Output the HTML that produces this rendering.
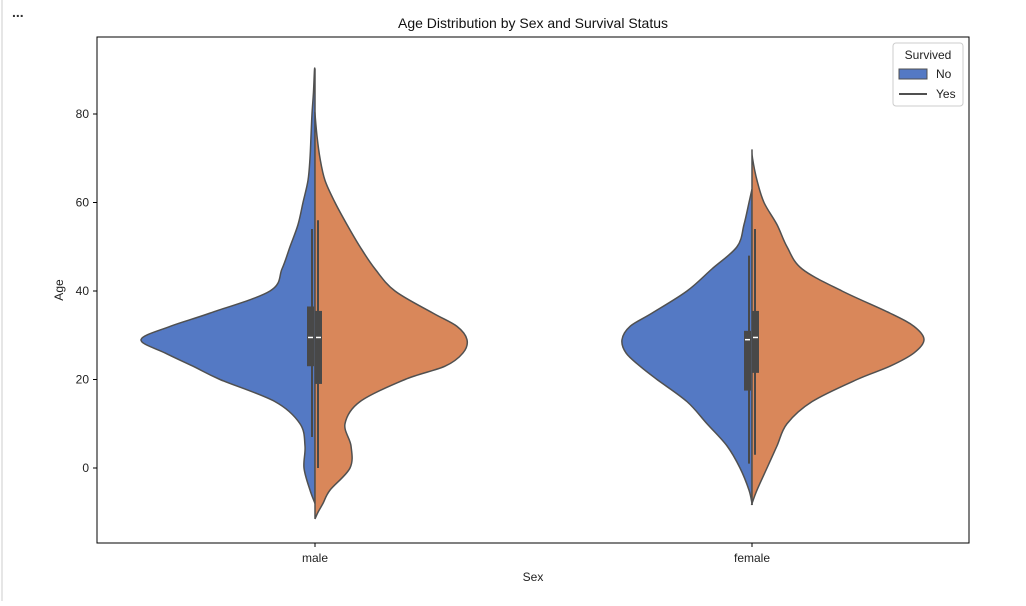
<!DOCTYPE html>
<html><head><meta charset="utf-8"><style>
body{margin:0;background:#fff;width:1026px;height:601px;overflow:hidden;font-family:"Liberation Sans","Noto Sans CJK SC",sans-serif}
svg text{font-family:"Liberation Sans","DejaVu Sans",sans-serif}
</style></head><body>
<svg width="1026" height="601">
<line x1="2" y1="0" x2="2" y2="601" stroke="#ccc"/>
<text x="12" y="17" font-size="14" font-weight="bold" fill="#333">...</text>
<g id="plot"></g>
</svg>
<script>
const categories=["male","female"];
const ageGrid=[-12,-10,-8,-5,0,5,10,15,20,23,26,29,32,35,40,45,50,55,60,65,70,75,80,85,90,92];
// densities (relative half-widths) per grid age
const maleNo=[0,0,0,5,11,10,15,40,95,122,150,174,145,105,45,33,25,17,12,7,5,4,3,1.5,0.5,0];
const maleYes=[0,3,8,15,35,36,30,45,90,130,148,152,142,118,80,60,45,32,20,10,5,2,0,0,0,0];
const femaleNo=[0,0,0,3,12,25,45,65,95,112,126,130,122,100,65,40,15,8,3,0,0,0,0,0,0,0];
const femaleYes=[0,0,0,5,15,25,35,60,105,138,162,172,162,138,90,50,35,25,12,5,0.5,0,0,0,0,0];
const boxes=[ // [q1,median,q3,whiskerLow,whiskerHigh] for No, Yes
 [[23,29.5,36.5,7,54],[19,29.5,35.5,0,56]],
 [[17.5,29,31,1,48],[21.5,29.5,35.5,3,54]]];
const tops=[[90,80],[63,72]], bottoms=[[-8,-11.5],[-8,-8]];
const yTicks=[0,20,40,60,80];
const ns="http://www.w3.org/2000/svg";
const L=97,T=37,R=969,B=543;
const y=v=>468-4.425*v;
const xc=i=>315+i*437;
const g=document.getElementById('plot');
function mk(t,a,p){const e=document.createElementNS(ns,t);for(const k in a)e.setAttribute(k,a[k]);(p||g).appendChild(e);return e;}
function smooth(pts){let d="M"+pts[0][0]+","+pts[0][1];for(let i=0;i<pts.length-1;i++){const p0=pts[i-1]||pts[i],p1=pts[i],p2=pts[i+1],p3=pts[i+2]||p2;
 d+=" C"+(p1[0]+(p2[0]-p0[0])/6)+","+(p1[1]+(p2[1]-p0[1])/6)+" "+(p2[0]-(p3[0]-p1[0])/6)+","+(p2[1]-(p3[1]-p1[1])/6)+" "+p2[0]+","+p2[1];}return d;}
function half(i,dens,side,top,bot,col,name){
 const cx=xc(i);const pts=[];
 for(let k=0;k<ageGrid.length;k++){const a=ageGrid[k];if(a<bot||a>top)continue;pts.push([cx+side*dens[k],y(a)]);}
 pts.unshift([cx,y(bot)]);pts.push([cx,y(top)]);
 const p=mk('path',{d:smooth(pts)+" Z",fill:col,stroke:"#505050","stroke-width":1.5});
 
 
}
const dens=[[maleNo,maleYes],[femaleNo,femaleYes]];
for(let i=0;i<2;i++){
 half(i,dens[i][0],-1,tops[i][0],bottoms[i][0],"#5479c4",categories[i]+"-no-violin");
 half(i,dens[i][1],1,tops[i][1],bottoms[i][1],"#d9875a",categories[i]+"-yes-violin");
 for(let s=0;s<2;s++){const b=boxes[i][s];const bx=xc(i)+(s?0:-8);
  const w=mk('line',{x1:bx+(s?3:5),x2:bx+(s?3:5),y1:y(b[3]),y2:y(b[4]),stroke:"#484848","stroke-width":2});
  
  
  const r=mk('rect',{x:bx,y:y(b[2]),width:7,height:y(b[0])-y(b[2]),fill:"#484848"});
  
  
  const m=mk('line',{x1:bx+1,x2:bx+6,y1:y(b[1]),y2:y(b[1]),stroke:"#fff","stroke-width":1.5});
  
  
 }
}
const fr=mk('rect',{x:L,y:T,width:R-L,height:B-T,fill:"none",stroke:"#000","stroke-width":1});


for(const t of yTicks){mk('line',{x1:L-4,x2:L,y1:y(t),y2:y(t),stroke:"#000"});
 const tx=mk('text',{x:L-8,y:y(t)+4,"font-size":12,"text-anchor":"end",fill:"#222"});tx.textContent=t;
 
 }
categories.forEach((c,i)=>{mk('line',{x1:xc(i),x2:xc(i),y1:B,y2:B+4,stroke:"#000"});
 const tx=mk('text',{x:xc(i),y:B+19,"font-size":12,"text-anchor":"middle",fill:"#222"});tx.textContent=c;
 
 });
let t=mk('text',{x:533,y:28,"font-size":14,"text-anchor":"middle",fill:"#111"});t.textContent="Age Distribution by Sex and Survival Status";

t=mk('text',{x:533,y:581,"font-size":12,"text-anchor":"middle",fill:"#222"});t.textContent="Sex";

t=mk('text',{x:63,y:290,"font-size":12,"text-anchor":"middle",fill:"#222",transform:"rotate(-90 63 290)"});t.textContent="Age";

const lg=mk('g',{});
mk('rect',{x:893,y:43,width:70,height:63,rx:3,fill:"#fff",stroke:"#ccc","fill-opacity":0.85},lg);
t=mk('text',{x:928,y:59,"font-size":12,"text-anchor":"middle",fill:"#222"},lg);t.textContent="Survived";

const sw=mk('rect',{x:899,y:69,width:28,height:10,fill:"#5479c4",stroke:"#505050"},lg);

t=mk('text',{x:936,y:78,"font-size":12,fill:"#222"},lg);t.textContent="No";

const ln=mk('line',{x1:899,x2:927,y1:94,y2:94,stroke:"#505050","stroke-width":2},lg);

t=mk('text',{x:936,y:98,"font-size":12,fill:"#222"},lg);t.textContent="Yes";

</script>
</body></html>
